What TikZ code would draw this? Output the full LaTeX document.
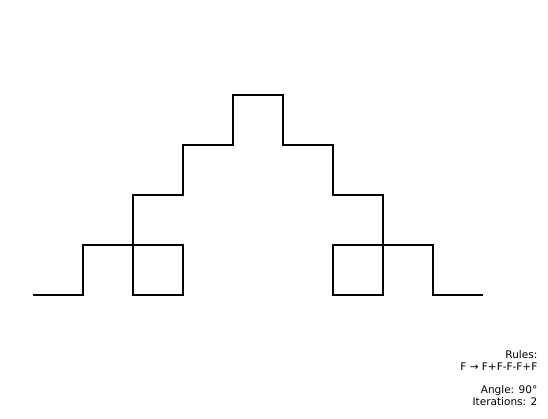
\documentclass[tikz,border=0pt]{standalone}
\usepackage{fontspec}
\setmainfont{DejaVu Sans}
\begin{document}
\begin{tikzpicture}[x=1pt,y=-1pt,
  curve/.style={line width=2pt,black,line join=miter,line cap=butt},
  info/.style={font=\fontsize{10.5}{11.7}\selectfont,align=right,anchor=north east,inner sep=0pt}]
\useasboundingbox (0,0) rectangle (548,418);
\draw[curve] (33,295) -- (83,295) -- (83,245) -- (133,245) -- (133,295) -- (183,295) -- (183,245) -- (133,245) -- (133,195) -- (183,195) -- (183,145) -- (233,145) -- (233,95) -- (283,95) -- (283,145) -- (333,145) -- (333,195) -- (383,195) -- (383,245) -- (333,245) -- (333,295) -- (383,295) -- (383,245) -- (433,245) -- (433,295) -- (483,295);
\node[info] (txt) at (537.5,350.5) {Rules:\\F → F+F-F-F+F\\[11.7pt]Angle: 90°\\Iterations: 2};
\end{tikzpicture}
\end{document}
